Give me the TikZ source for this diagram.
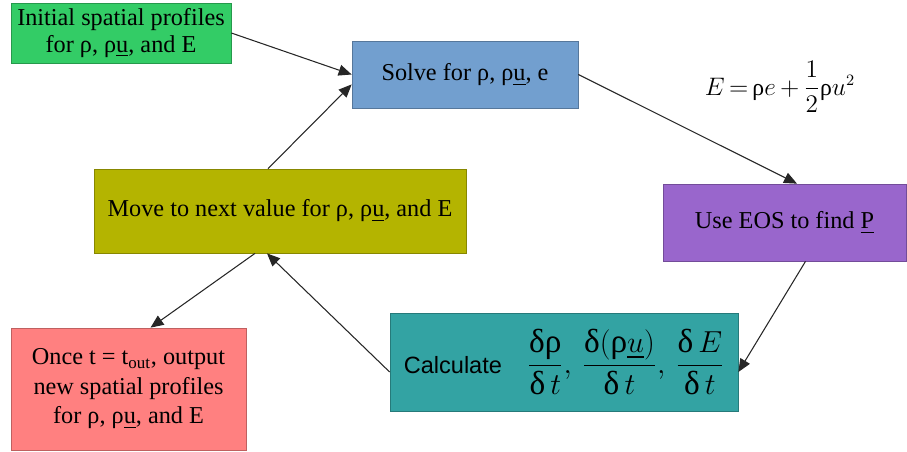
\documentclass[tikz,border=0pt]{standalone}
\usepackage{fontspec}
\usepackage{amsmath}
\setmainfont{Liberation Serif}
\setsansfont{Liberation Sans}
\usetikzlibrary{arrows.meta}

\definecolor{initgreen}{RGB}{51,204,102}
\definecolor{solveblue}{RGB}{114,159,207}
\definecolor{eospurple}{RGB}{153,102,204}
\definecolor{calcteal}{RGB}{51,163,163}
\definecolor{moveolive}{RGB}{180,180,0}
\definecolor{outred}{RGB}{255,128,128}

\begin{document}
\begin{tikzpicture}[>={Triangle[length=2.6mm,width=2.2mm]},
  every node/.style={font=\fontsize{13.8}{15}\selectfont},
  stage/.style={draw=#1!75!black,fill=#1,align=center,inner sep=0pt},
  flow/.style={->,black!85,line width=.6pt}]
  \useasboundingbox (0,0) rectangle (18.14,-9.02);
  \node[stage=initgreen,minimum width=4.4cm,minimum height=1.2cm] (init)
    at (2.42,-0.66) {Initial spatial profiles\\for ρ, ρ\underline{u}, and E};
  \node[stage=solveblue,minimum width=4.52cm,minimum height=1.34cm] (solve)
    at (9.30,-1.49) {Solve for ρ, ρ\underline{u}, e};
  \node[font=\fontsize{13.5}{16}\selectfont] (energy) at (15.6,-1.74)
    {$E\,{=}\,\textrm{ρ}e\,{+}\,\dfrac{1}{2}\textrm{ρ}u^2$};
  \node[stage=eospurple,minimum width=4.86cm,minimum height=1.54cm] (eos)
    at (15.69,-4.45) {Use EOS to find \underline{P}};
  \node[stage=calcteal,minimum width=6.96cm,minimum height=1.96cm] (calc)
    at (11.28,-7.24) {\sffamily\fontsize{13.4}{16}\selectfont Calculate\hspace{5mm}%
    \fontsize{19}{22}\selectfont
    $\dfrac{\textrm{δρ}}{\textrm{δ}\,t},\,\dfrac{\textrm{δ}(\textrm{ρ}\underline{u})}{\textrm{δ}\,t},\,\dfrac{\textrm{δ}\,E}{\textrm{δ}\,t}$};
  \node[stage=moveolive,minimum width=7.44cm,minimum height=1.68cm] (move)
    at (5.60,-4.22) {Move to next value for ρ, ρ\underline{u}, and E};
  \node[stage=outred,minimum width=4.7cm,minimum height=2.44cm,
    font=\fontsize{13.8}{16.8}\selectfont] (output)
    at (2.57,-7.78) {Once t = t\textsubscript{out}, output\\new spatial profiles\\for ρ, ρ\underline{u}, and E};
  \draw[flow] (init.east) -- (solve.west);
  \draw[flow] ([xshift=-.24cm]move.north) -- (solve.185);
  \draw[flow] (solve.east) -- ([xshift=.25cm]eos.north);
  \draw[flow] ([xshift=.42cm]eos.south) -- ([yshift=-.2cm]calc.east);
  \draw[flow] ([yshift=-.2cm]calc.west) -- ([xshift=-.26cm]move.south);
  \draw[flow] ([xshift=-.5cm]move.south) -- ([xshift=.44cm]output.north);
\end{tikzpicture}
\end{document}
